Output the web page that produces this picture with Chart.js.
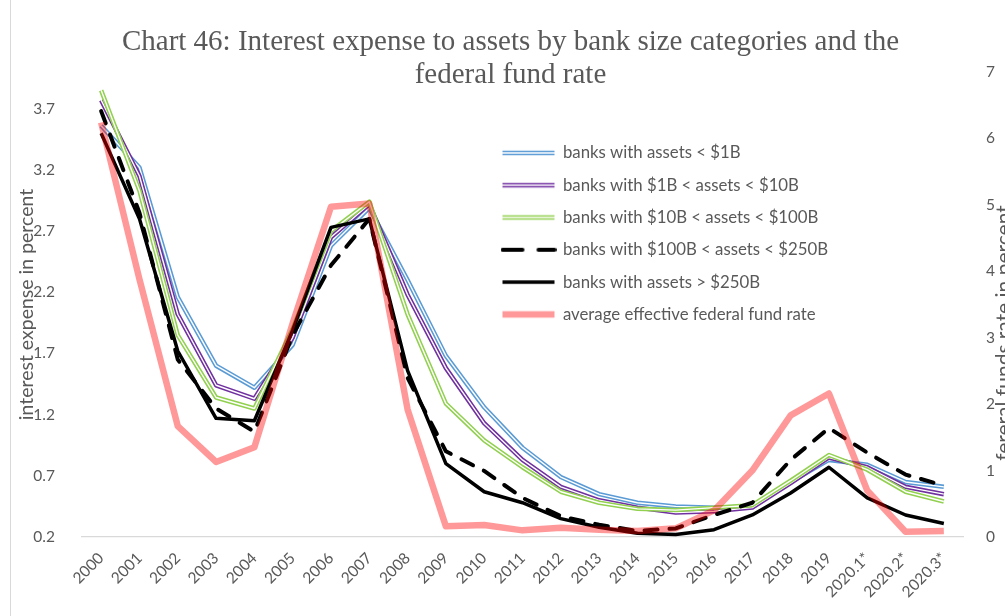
<!DOCTYPE html>
<html>
<head>
<meta charset="utf-8">
<script src="https://cdn.jsdelivr.net/npm/chart.js@4.4.0/dist/chart.umd.min.js"></script>
<style>
  html, body { margin: 0; padding: 0; background: #fff; overflow: hidden; }
</style>
</head>
<body>
<canvas id="rateChart" width="1005" height="616"></canvas>
<script>
// categories
const periods = ['2000', '2001', '2002', '2003', '2004', '2005', '2006', '2007', '2008', '2009',
    '2010', '2011', '2012', '2013', '2014', '2015', '2016', '2017', '2018', '2019',
    '2020.1*', '2020.2*', '2020.3*'];

// interest expense to assets, percent (left axis)
const banksUnder1B = [3.56, 3.22, 2.16, 1.60, 1.42, 1.77, 2.58, 2.89, 2.30, 1.68, 1.26, 0.93, 0.69, 0.55, 0.48, 0.45, 0.44, 0.45, 0.65, 0.83, 0.79, 0.65, 0.61];
const banks1to10B = [3.77, 3.15, 2.02, 1.44, 1.33, 1.83, 2.65, 2.92, 2.18, 1.58, 1.13, 0.83, 0.61, 0.50, 0.44, 0.40, 0.41, 0.44, 0.64, 0.85, 0.77, 0.61, 0.55];
const banks10to100B = [3.85, 3.03, 1.85, 1.34, 1.25, 1.90, 2.70, 2.94, 2.02, 1.29, 0.99, 0.77, 0.57, 0.48, 0.43, 0.42, 0.44, 0.46, 0.66, 0.87, 0.75, 0.57, 0.49];
const banks100to250B = [3.68, 2.85, 1.65, 1.25, 1.06, 1.85, 2.42, 2.80, 1.50, 0.90, 0.74, 0.52, 0.37, 0.30, 0.25, 0.27, 0.38, 0.48, 0.83, 1.09, 0.89, 0.71, 0.62];
const banksOver250B = [3.50, 2.80, 1.72, 1.17, 1.15, 1.89, 2.73, 2.80, 1.56, 0.80, 0.57, 0.48, 0.35, 0.28, 0.23, 0.22, 0.26, 0.38, 0.56, 0.77, 0.52, 0.38, 0.31];

// average effective federal funds rate, percent (right axis)
const fedFundsRate = [6.24, 3.88, 1.67, 1.13, 1.35, 3.22, 4.97, 5.02, 1.92, 0.16, 0.18, 0.10, 0.14, 0.11, 0.09, 0.13, 0.40, 1.00, 1.83, 2.16, 0.70, 0.08, 0.09];

// tick labels
const leftTicks = [0.2, 0.7, 1.2, 1.7, 2.2, 2.7, 3.2, 3.7];
const rightTicks = [0, 1, 2, 3, 4, 5, 6, 7];

const titleLines = ['Chart 46: Interest expense to assets by bank size categories and the', 'federal fund rate'];
const leftTitle = 'interest expense in percent';
const rightTitle = 'fereral funds rate in percent';

const grey = '#595959';
const sans = 'Lato';

const datasets = [
    { label: 'banks with assets < $1B', data: banksUnder1B, yAxisID: 'y',
      borderColor: '#5B9BD5', borderWidth: 4.5, innerColor: '#ffffff', innerWidth: 1.4, order: 5 },
    { label: 'banks with $1B < assets < $10B', data: banks1to10B, yAxisID: 'y',
      borderColor: '#7030A0', borderWidth: 4.5, innerColor: '#ffffff', innerWidth: 1.4, order: 4 },
    { label: 'banks with $10B < assets < $100B', data: banks10to100B, yAxisID: 'y',
      borderColor: '#92D050', borderWidth: 4.5, innerColor: '#ffffff', innerWidth: 1.4, order: 3 },
    { label: 'banks with $100B < assets < $250B', data: banks100to250B, yAxisID: 'y',
      borderColor: '#000000', borderWidth: 4, borderDash: [13, 12], borderCapStyle: 'round',
      legendDash: [20, 16], order: 2 },
    { label: 'banks with assets > $250B', data: banksOver250B, yAxisID: 'y',
      borderColor: '#000000', borderWidth: 3.5, order: 1 },
    { label: 'average effective federal fund rate', data: fedFundsRate, yAxisID: 'y2',
      borderColor: 'rgba(255, 0, 0, 0.4)', borderWidth: 6.5, order: 0 }
];

// legend swatch images (double lines, dashes)
function makeSwatch(ds) {
    const c = document.createElement('canvas');
    c.width = 56; c.height = 10;
    const g = c.getContext('2d');
    g.lineCap = ds.borderCapStyle || 'butt';
    g.strokeStyle = ds.borderColor;
    g.lineWidth = ds.borderWidth;
    g.setLineDash(ds.legendDash || []);
    g.beginPath(); g.moveTo(2, 5); g.lineTo(54, 5); g.stroke();
    if (ds.innerColor) {
        g.setLineDash([]);
        g.strokeStyle = ds.innerColor;
        g.lineWidth = ds.innerWidth;
        g.beginPath(); g.moveTo(2, 5); g.lineTo(54, 5); g.stroke();
    }
    return c;
}
const swatches = datasets.map(makeSwatch);

// white core for the compound (double) lines
const doubleLine = {
    id: 'doubleLine',
    afterDatasetDraw(chart, args) {
        const ds = chart.data.datasets[args.index];
        if (!ds.innerColor) return;
        const pts = args.meta.data;
        const ctx = chart.ctx;
        const a = chart.chartArea;
        ctx.save();
        ctx.beginPath(); ctx.rect(a.left, a.top, a.right - a.left, a.bottom - a.top); ctx.clip();
        ctx.beginPath();
        pts.forEach((p, i) => i ? ctx.lineTo(p.x, p.y) : ctx.moveTo(p.x, p.y));
        ctx.lineJoin = 'round';
        ctx.strokeStyle = ds.innerColor;
        ctx.lineWidth = ds.innerWidth;
        ctx.stroke();
        ctx.restore();
    }
};

// legend sits inside the plot, right of the 2007 peak
const legendSpot = {
    id: 'legendSpot',
    afterLayout(chart) {
        chart.legend.left = 487;
        chart.legend.top = 129;
    }
};

// outer frame line and the right axis title (reads bottom to top)
const frameAndRightTitle = {
    id: 'frameAndRightTitle',
    afterDraw(chart) {
        const ctx = chart.ctx;
        ctx.save();
        ctx.strokeStyle = '#D9D9D9';
        ctx.lineWidth = 1;
        ctx.beginPath(); ctx.moveTo(10.5, 0); ctx.lineTo(10.5, chart.height); ctx.stroke();
        ctx.translate(1004, 333);
        ctx.rotate(-Math.PI / 2);
        ctx.fillStyle = grey;
        ctx.font = '21px ' + sans;
        ctx.textAlign = 'center';
        ctx.textBaseline = 'middle';
        ctx.fillText(rightTitle, 0, 0);
        ctx.restore();
    }
};

new Chart(document.getElementById('rateChart'), {
    type: 'line',
    data: { labels: periods, datasets: datasets },
    plugins: [doubleLine, legendSpot, frameAndRightTitle],
    options: {
        responsive: false,
        animation: false,
        layout: { padding: { left: 16, right: 0, top: 0, bottom: 0 } },
        elements: {
            point: { radius: 0, hoverRadius: 0 },
            line: { tension: 0, borderJoinStyle: 'round' }
        },
        scales: {
            x: {
                offset: true,
                grid: { display: false },
                border: { display: true, color: '#D9D9D9', width: 1.3 },
                ticks: {
                    color: grey, font: { family: sans, size: 15.5 },
                    autoSkip: false, minRotation: 45, maxRotation: 45, padding: 4
                },
                afterFit(s) { s.height = 79; }
            },
            y: {
                position: 'left',
                min: 0.2, max: 4.0,
                grid: { display: false },
                border: { display: false },
                ticks: { color: grey, font: { family: sans, size: 15.5 }, padding: 19 },
                afterBuildTicks(s) { s.ticks = leftTicks.map(v => ({ value: v })); },
                title: {
                    display: true, text: leftTitle, color: grey,
                    font: { family: sans, size: 19.5 }, padding: { top: -1, bottom: 0 }
                },
                afterFit(s) { s.width = 66; }
            },
            y2: {
                position: 'right',
                min: 0, max: 7,
                grid: { display: false },
                border: { display: false },
                ticks: { color: grey, font: { family: sans, size: 15.5 }, padding: 15 },
                afterBuildTicks(s) { s.ticks = rightTicks.map(v => ({ value: v })); },
                afterFit(s) { s.width = 42; }
            }
        },
        plugins: {
            title: {
                display: true,
                text: titleLines,
                color: grey,
                font: { family: 'Liberation Serif', size: 29, weight: 'normal', lineHeight: 33 / 29 },
                padding: { top: 25.5, bottom: -19.5 }
            },
            legend: {
                position: 'chartArea',
                align: 'start',
                labels: {
                    usePointStyle: true,
                    pointStyleWidth: 52,
                    boxHeight: 10,
                    padding: 15.5,
                    color: grey,
                    font: { family: sans, size: 16.8 },
                    sort: (a, b) => a.datasetIndex - b.datasetIndex,
                    generateLabels(chart) {
                        const items = Chart.defaults.plugins.legend.labels.generateLabels(chart);
                        items.forEach(it => { it.pointStyle = swatches[it.datasetIndex]; });
                        return items;
                    }
                }
            },
            tooltip: { enabled: false }
        }
    }
});
</script>
</body>
</html>
